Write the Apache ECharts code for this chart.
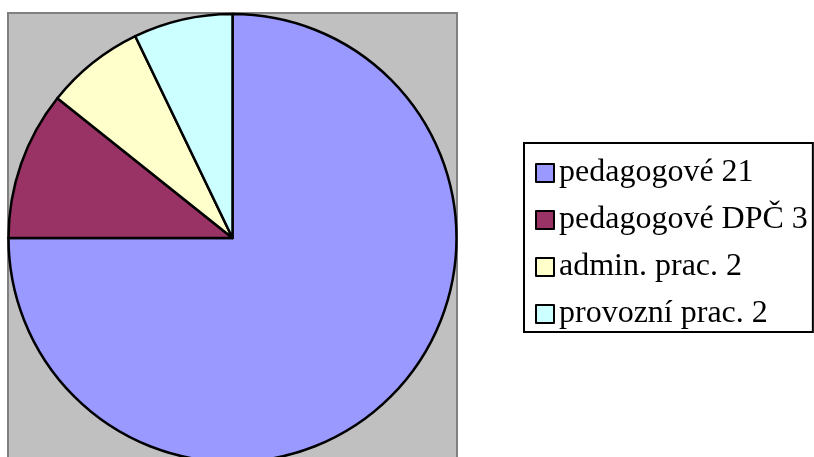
<!DOCTYPE html>
<html><head><meta charset="utf-8">
<script src="https://cdn.jsdelivr.net/npm/echarts@6/dist/echarts.min.js"></script>
<style>html,body{margin:0;padding:0;background:#fff}#c{width:814px;height:457px}</style>
</head><body><div id="c"></div>
<script>
const categories = ['pedagogové 21', 'pedagogové DPČ 3', 'admin. prac. 2', 'provozní prac. 2'];
const values = [21, 3, 2, 2];
const colors = ['#9999FF', '#993366', '#FFFFCC', '#CCFFFF'];

const chart = echarts.init(document.getElementById('c'), null, {renderer: 'canvas'});
chart.setOption({
  animation: false,
  backgroundColor: '#ffffff',
  graphic: [{
    type: 'rect', z: -10, silent: true,
    shape: {x: 8, y: 13, width: 449, height: 460},
    style: {fill: '#C0C0C0', stroke: '#808080', lineWidth: 2}
  }],
  legend: {
    orient: 'vertical',
    left: 524, top: 143,
    padding: [14, 5, 2, 11],
    borderColor: '#000', borderWidth: 2,
    itemWidth: 18, itemHeight: 18, itemGap: 15,
    icon: 'rect',
    textStyle: {fontFamily: 'Liberation Serif', fontSize: 32, color: '#000', lineHeight: 30},
    data: categories
  },
  series: [{
    type: 'pie',
    center: [232.5, 238], radius: 224,
    startAngle: 90, clockwise: true,
    label: {show: false}, labelLine: {show: false},
    emphasis: {disabled: true},
    itemStyle: {borderColor: '#000', borderWidth: 2.5},
    data: categories.map((n, i) => ({name: n, value: values[i], itemStyle: {color: colors[i]}}))
  }]
});
</script></body></html>
